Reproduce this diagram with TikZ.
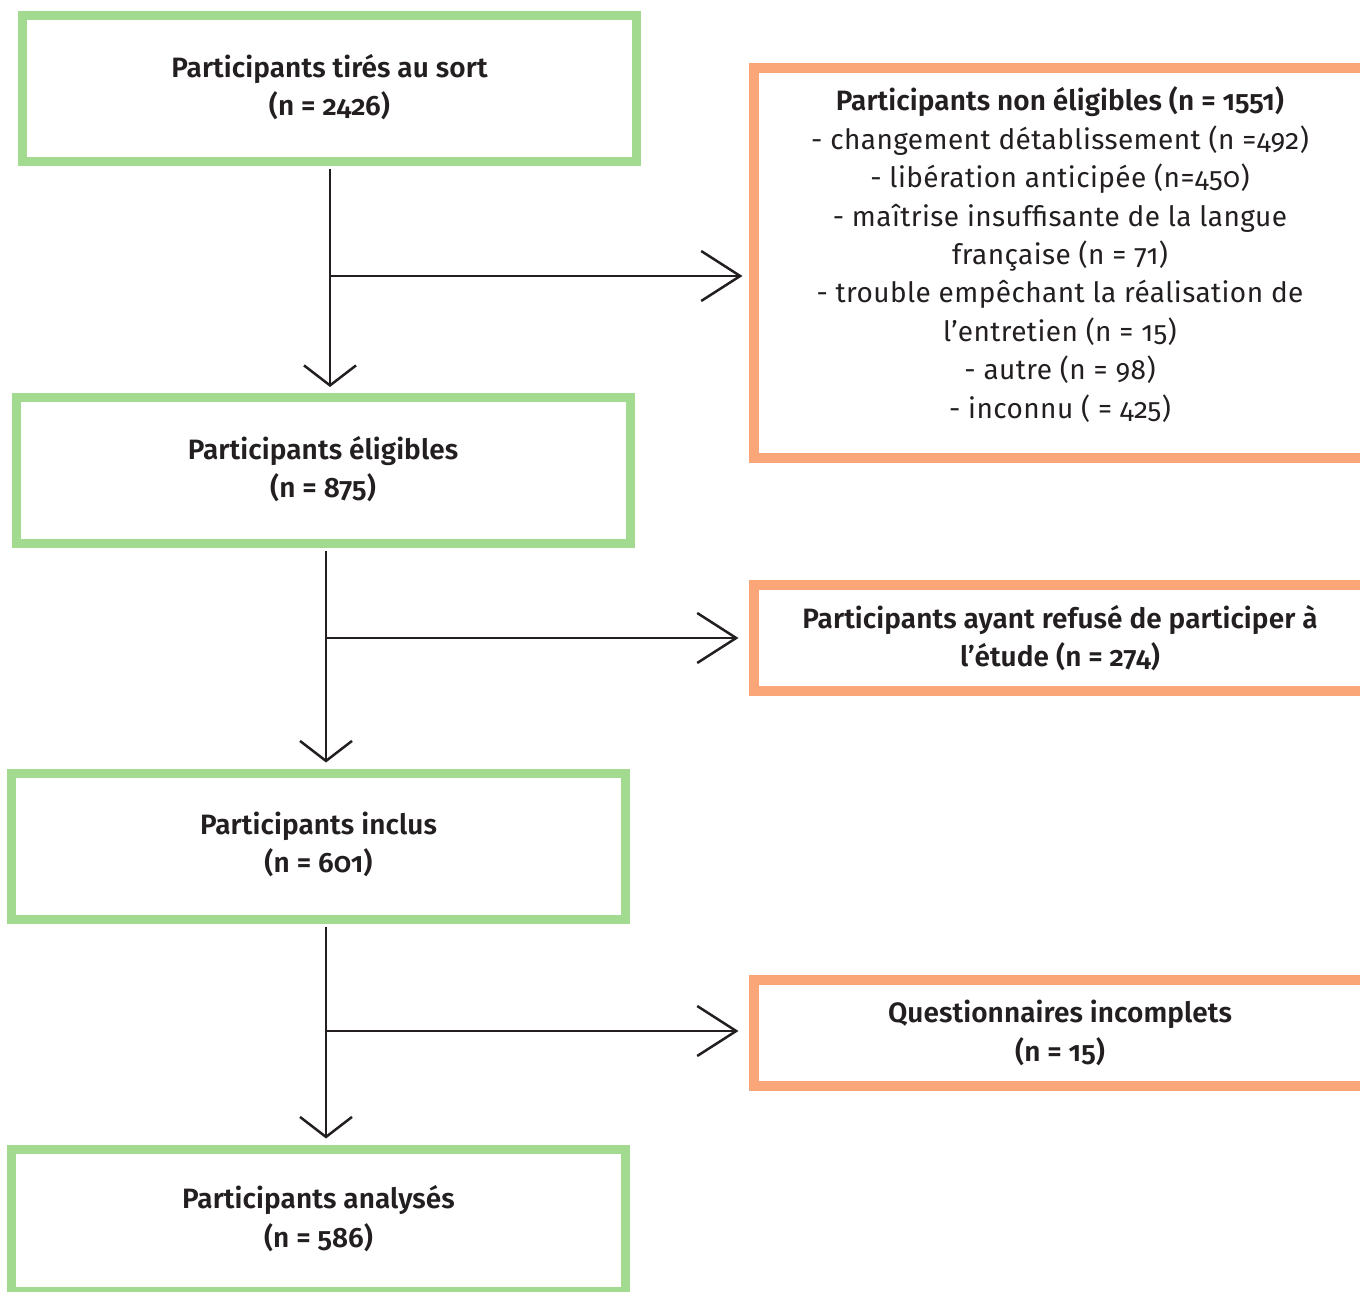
\documentclass[tikz,border=0pt]{standalone}
\usepackage{fontspec}
\setmainfont{Fira Sans}[Numbers=OldStyle, BoldFont={Fira Sans SemiBold}, LetterSpace=1.5, BoldFeatures={LetterSpace=0.3}]
\usetikzlibrary{arrows.meta}
\definecolor{boxgreen}{RGB}{162,218,143}
\definecolor{boxorange}{RGB}{250,166,120}
\definecolor{ink}{RGB}{35,31,32}
\begin{document}
\begin{tikzpicture}[x=1pt,y=-1pt,
  greenbox/.style={draw=boxgreen, line width=9pt, minimum width=614pt, minimum height=146pt,
    inner sep=0pt, align=center, text=ink, font=\fontsize{28}{38.4}\selectfont\bfseries},
  orangebox/.style={draw=boxorange, line width=10pt, minimum width=612pt, inner sep=0pt,
    align=center, text=ink, font=\fontsize{28}{38.4}\selectfont\bfseries},
  plaintext/.style={align=center, text=ink, inner sep=0pt, font=\fontsize{28}{38.4}\selectfont},
  conn/.style={draw=ink, line width=2.5pt},
  downtip/.style={-{Straight Barb[length=20pt,width=52pt]}},
  righttip/.style={-{Straight Barb[length=39pt,width=50pt]}}
]
\path[use as bounding box, clip] (0,0) rectangle (1360,1292);

% green boxes
\node[greenbox] (b1) at (329.5,88.5) {Participants tirés au sort\\(n = 2426)\vphantom{p}\\[-31pt]};
\node[greenbox] (b2) at (323,470.5) {Participants éligibles\\(n = 875)\\[-31pt]};
\node[greenbox] (b3) at (318.5,846) {Participants inclus\\(n = 601)\\[-31pt]};
\node[greenbox, minimum height=142pt] (b4) at (318.5,1220) {Participants analysés\\(n = 586)\\[-31pt]};

% orange boxes
\node[orangebox, minimum height=390pt] (oA) at (1060,263) {};
\node[plaintext] (tA) at (1060,254.5) {\textbf{Participants non éligibles (n = 1551)}\\
- changement détablissement (n =492)\\
- libération anticipée (n=450)\\
- maîtrise insuffisante de la langue\\
française (n = 71)\\
- trouble empêchant la réalisation de\\
l’entretien (n = 15)\\
- autre (n = 98)\\
- inconnu ( = 425)};
\node[orangebox, minimum height=106pt] (oB) at (1060,638) {Participants ayant refusé de participer à\\l’étude (n = 274)};
\node[orangebox, minimum height=106pt] (oC) at (1060,1033) {Questionnaires incomplets\\(n = 15)};

% junctions
\coordinate (j1) at (330,276);
\coordinate (j2) at (326,638);
\coordinate (j3) at (326,1031);

% vertical connectors
\draw[conn, downtip, shorten <=3pt, shorten >=6pt] (b1.south -| j1) -- (b2.north -| j1);
\draw[conn, downtip, shorten <=3pt, shorten >=6pt] (b2.south -| j2) -- (b3.north -| j2);
\draw[conn, downtip, shorten <=3pt, shorten >=6pt] (b3.south -| j3) -- (b4.north -| j3);

% horizontal connectors
\draw[conn, righttip, shorten >=6.5pt] (j1) -- (j1 -| oA.west);
\draw[conn, righttip, shorten >=10.5pt] (j2) -- (j2 -| oB.west);
\draw[conn, righttip, shorten >=10.5pt] (j3) -- (j3 -| oC.west);
\end{tikzpicture}
\end{document}
